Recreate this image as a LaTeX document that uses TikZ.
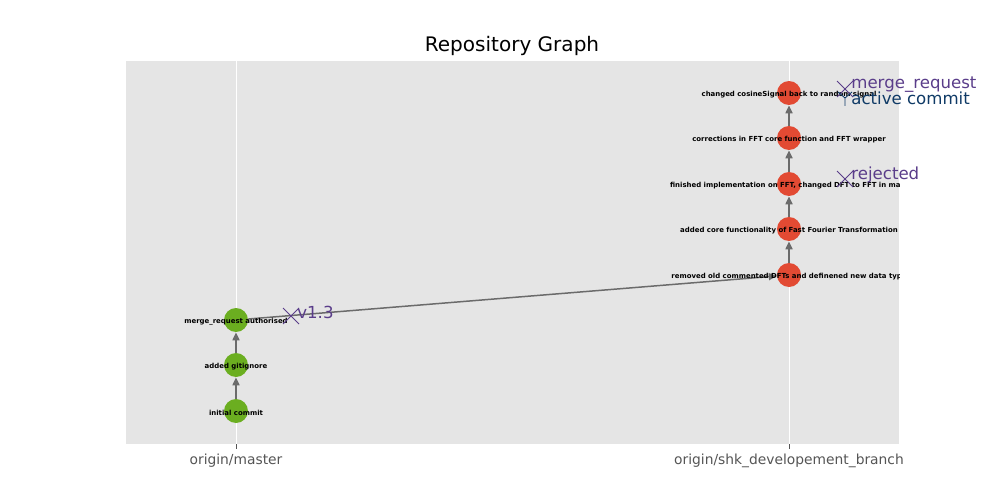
\documentclass[tikz,border=0pt]{standalone}
\usepackage{fontspec}
\setmainfont{DejaVu Sans}
\usetikzlibrary{arrows.meta}
\definecolor{axesGray}{HTML}{E5E5E5}
\definecolor{commitRed}{HTML}{E24A33}
\definecolor{commitGreen}{HTML}{6BAE20}
\definecolor{tagPurple}{HTML}{5A3D8A}
\definecolor{headBlue}{HTML}{0F3A66}
\definecolor{edgeGray}{HTML}{6B6B6B}
\definecolor{tickGray}{HTML}{555555}
\newcommand{\commit}[3]{%
  \node[commitStyle,fill=#3] (#1) at (#2) {};
}
\newcommand{\commitLabel}[2]{%
  \node[labelStyle] at ([yshift=-1]#1.center) {#2};
}
\newcommand{\tagCross}[3]{%
  \draw[markStyle,#3] (#1) +(-8,-8) -- +(8,8) +(-8,8) -- +(8,-8);
  \node[tagStyle,text=#3] at ([shift={(6,-4)}]#1) {#2};
}

\begin{document}
\begin{tikzpicture}[x=0.02cm,y=-0.02cm,%
  commitStyle/.style={circle,draw=none,minimum size=0.48cm,inner sep=0pt},%
  labelStyle/.style={inner sep=0pt,font=\fontsize{3.95}{4.1}\selectfont\bfseries},%
  edgeStyle/.style={edgeGray,line width=0.85pt,-{Triangle[length=4.5pt,width=4pt]}},%
  markStyle/.style={line width=0.5pt},%
  tagStyle/.style={anchor=west,inner sep=0pt,font=\fontsize{9.45}{10}\selectfont},%
  tickStyle/.style={text=tickGray,font=\fontsize{7.87}{9}\selectfont}%
]
\useasboundingbox[fill=white] (0,0) rectangle (1000,500);
%
% Axes.
\fill[axesGray] (126,61) rectangle (899,444);
\coordinate (masterTop) at (236,61);
\coordinate (masterBottom) at (236,444);
\coordinate (branchTop) at (789,61);
\coordinate (branchBottom) at (789,444);
\draw[white,line width=0.45pt] (masterTop) -- (masterBottom);
\draw[white,line width=0.45pt] (branchTop) -- (branchBottom);
\draw[tickGray,line width=0.45pt] (masterBottom) -- ++(0,5);
\draw[tickGray,line width=0.45pt] (branchBottom) -- ++(0,5);
\node[tickStyle] (masterTick) at (236,461) {origin/master};
\node[tickStyle] (branchTick) at (789,461) {origin/shk\_developement\_branch};
\node[font=\fontsize{11.4}{13}\selectfont] (title) at (512,46) {Repository Graph};
%
% Commits.
\commit{m1}{236,411}{commitGreen}
\commit{m2}{236,365}{commitGreen}
\commit{m3}{236,320}{commitGreen}
\commit{b1}{789,275}{commitRed}
\commit{b2}{789,229}{commitRed}
\commit{b3}{789,184}{commitRed}
\commit{b4}{789,138}{commitRed}
\commit{b5}{789,93}{commitRed}
%
% Parent links.
\draw[edgeStyle] (m1) -- (m2);
\draw[edgeStyle] (m2) -- (m3);
\draw[edgeStyle] (m3) -- (b1);
\draw[edgeStyle] (b1) -- (b2);
\draw[edgeStyle] (b2) -- (b3);
\draw[edgeStyle] (b3) -- (b4);
\draw[edgeStyle] (b4) -- (b5);
%
% Commit messages, cut at the axes.
\begin{scope}
\clip (126,61) rectangle (899,444);
\commitLabel{m1}{initial commit}
\commitLabel{m2}{added gitignore}
\commitLabel{m3}{merge\_request authorised}
\commitLabel{b1}{removed old commented DFTs and definened new data type}
\commitLabel{b2}{added core functionality of Fast Fourier Transformation}
\commitLabel{b3}{finished implementation on FFT, changed DFT to FFT in main}
\commitLabel{b4}{corrections in FFT core function and FFT wrapper}
\commitLabel{b5}{changed cosineSignal back to random signal}
\end{scope}
%
% Tags.
\coordinate (tagV) at (291,316);
\coordinate (tagMerge) at (845,89);
\coordinate (tagRejected) at (845,179);
\coordinate (headMark) at (845,98);
\tagCross{tagV}{v1.3}{tagPurple}
\tagCross{tagMerge}{merge\_request}{tagPurple}
\tagCross{tagRejected}{rejected}{tagPurple}
\draw[markStyle,headBlue] (headMark) -- +(0,8) (headMark) -- +(-7,-6) (headMark) -- +(7,-6);
\node[tagStyle,text=headBlue] (headText) at ([shift={(6,0)}]headMark) {active commit};
\end{tikzpicture}
\end{document}
